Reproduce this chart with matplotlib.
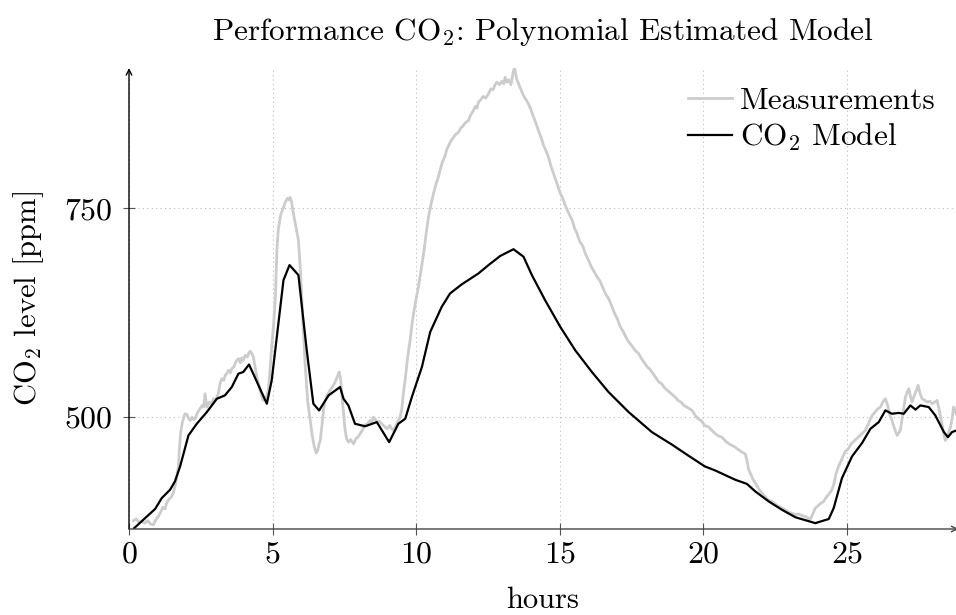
import matplotlib
matplotlib.use("Agg")
import matplotlib.pyplot as plt

plt.rcParams['font.family'] = ['cmr10', 'DejaVu Serif']
plt.rcParams['mathtext.fontset'] = 'cm'
plt.rcParams['axes.unicode_minus'] = False
plt.rcParams['axes.formatter.use_mathtext'] = True

# ---------------- data ----------------
meas_h = [0.15,0.25,0.35,0.44,0.55,0.65,0.75,0.85,0.95,1.02,1.10,1.18,1.25,1.31,1.40,1.47,1.54,1.62,1.68,1.72,
          1.76,1.80,1.86,1.95,2.02,2.08,2.13,2.20,2.25,2.30,2.38,2.47,2.55,2.60,2.65,2.71,2.80,2.88,2.95,3.00,
          3.06,3.11,3.17,3.23,3.30,3.35,3.40,3.47,3.53,3.58,3.65,3.72,3.81,3.88,3.93,3.98,4.05,4.12,4.18,4.22,
          4.28,4.33,4.40,4.45,4.51,4.58,4.63,4.68,4.75,4.80,4.85,4.92,4.97,5.03,5.10,5.15,5.20,5.28,5.38,5.45,
          5.52,5.58,5.61,5.66,5.72,5.80,5.90,5.98,6.06,6.14,6.22,6.31,6.38,6.45,6.52,6.57,6.62,6.66,6.72,6.78,
          6.83,6.90,7.00,7.08,7.18,7.25,7.32,7.37,7.41,7.47,7.52,7.58,7.65,7.72,7.82,7.90,7.97,8.05,8.12,8.20,
          8.30,8.40,8.45,8.51,8.58,8.65,8.72,8.80,8.86,8.93,9.00,9.08,9.15,9.21,9.30,9.38,9.44,9.50,9.56,9.62,
          9.68,9.73,9.79,9.85,9.91,10.00,10.08,10.17,10.26,10.35,10.43,10.52,10.60,10.70,10.76,10.83,10.92,11.00,11.06,11.13,
          11.20,11.28,11.36,11.47,11.55,11.62,11.70,11.82,11.90,11.98,12.06,12.12,12.17,12.25,12.33,12.42,12.52,12.60,12.68,12.75,
          12.81,12.90,12.98,13.05,13.10,13.16,13.22,13.30,13.39,13.43,13.50,13.57,13.65,13.75,13.83,13.91,14.00,14.08,14.17,14.26,
          14.35,14.43,14.52,14.61,14.70,14.80,14.90,15.02,15.10,15.20,15.30,15.43,15.52,15.60,15.70,15.80,15.90,16.00,16.10,16.20,
          16.30,16.40,16.50,16.59,16.70,16.80,16.90,17.00,17.11,17.20,17.30,17.40,17.50,17.62,17.75,17.85,17.95,18.05,18.15,18.25,
          18.33,18.45,18.55,18.65,18.75,18.85,18.95,19.02,19.12,19.22,19.32,19.42,19.52,19.61,19.72,19.82,19.92,20.05,20.19,20.30,
          20.42,20.55,20.65,20.78,20.90,21.00,21.11,21.22,21.35,21.46,21.52,21.58,21.65,21.72,21.81,21.90,21.97,22.04,22.15,22.25,
          22.39,22.50,22.62,22.74,22.85,22.97,23.09,23.20,23.32,23.44,23.55,23.65,23.73,23.80,23.90,24.00,24.10,24.19,24.28,24.38,
          24.48,24.55,24.62,24.71,24.80,24.88,24.95,25.05,25.15,25.30,25.40,25.52,25.64,25.75,25.82,25.88,25.98,26.08,26.17,26.25,
          26.34,26.42,26.50,26.57,26.66,26.75,26.86,26.95,27.04,27.10,27.16,27.22,27.27,27.35,27.42,27.48,27.55,27.62,27.72,27.80,
          27.90,27.97,28.06,28.14,28.22,28.31,28.37,28.43,28.50,28.55,28.61,28.67,28.72,28.78,28.81]
meas_v = [376,378,374,375,373,376,372,371,378,381,386,392,390,397,402,404,409,420,432,441,
          465,482,494,504,503,498,496,500,497,498,505,510,514,512,528,512,518,516,522,520,
          524,528,540,546,544,550,552,556,553,558,560,566,570,565,571,568,574,572,577,579,
          576,572,558,548,540,530,524,520,522,526,532,560,585,608,645,700,725,742,751,758,
          762,760,763,758,745,730,712,670,610,560,520,496,478,465,457,460,468,472,490,510,
          520,526,532,536,542,548,554,545,528,505,486,474,470,473,468,474,476,480,484,490,
          492,496,494,500,497,494,495,492,490,488,486,490,486,484,490,496,500,510,530,545,
          565,578,592,610,624,642,656,676,696,720,740,755,767,780,786,795,806,812,820,825,
          830,834,838,841,846,848,852,855,862,866,872,870,877,880,884,882,887,893,892,898,
          901,898,902,899,907,901,904,898,915,918,905,899,892,884,880,875,868,860,852,843,
          835,826,819,811,800,790,780,768,762,753,745,736,726,720,710,705,695,688,680,674,
          668,663,655,648,642,634,625,618,608,603,596,590,586,580,576,570,565,560,557,552,
          548,542,540,535,532,529,526,524,520,518,514,512,510,508,502,498,496,490,488,484,
          480,477,476,471,468,466,464,461,458,456,448,437,432,426,421,416,412,409,405,401,
          399,396,393,391,389,386,385,383,384,382,381,379,378,383,391,394,397,399,404,408,
          413,420,432,441,448,454,459,462,468,473,476,480,484,492,498,502,506,510,512,518,
          522,514,502,496,486,478,484,504,524,530,534,524,518,526,532,538,528,522,520,518,
          519,516,518,520,508,492,480,472,476,482,488,500,512,508,504]

model_h = [0.18,0.56,0.91,1.14,1.43,1.60,1.78,2.07,2.36,2.71,3.06,3.34,3.58,3.81,3.98,4.18,4.80,4.97,5.38,5.59,
           5.90,6.19,6.42,6.62,6.95,7.35,7.47,7.64,7.87,8.22,8.63,9.06,9.38,9.62,9.85,10.20,10.49,10.89,11.18,11.59,
           12.17,12.52,12.93,13.39,13.74,14.03,14.49,15.02,15.54,16.12,16.70,17.40,18.21,18.91,19.43,20.05,20.42,21.11,21.52,21.81,
           22.28,22.74,23.21,23.61,23.90,24.37,24.54,24.83,25.18,25.53,25.82,26.11,26.34,26.57,26.81,26.98,27.21,27.39,27.56,27.85,
           28.08,28.38,28.52,28.66,28.81]
model_v = [367,379,390,403,413,423,441,478,492,506,522,526,536,552,554,563,516,544,664,682,
           670,580,516,508,526,536,522,514,492,489,494,470,492,498,524,560,602,632,648,659,
           672,682,693,701,692,670,640,608,580,554,530,506,482,467,455,441,436,425,420,411,
           399,389,380,376,373,378,391,427,453,469,486,494,508,504,505,504,514,509,514,512,
           502,482,476,482,484]

x_ticks = [0, 5, 10, 15, 20, 25]
y_ticks = [500, 750]

# ---------------- figure ----------------
fig = plt.figure(figsize=(9.56, 6.15), dpi=100)
ax = fig.add_axes([129/956, (615-529)/615, (956-129)/956, (529-68)/615])

ax.plot(meas_h, meas_v, color='#cccccc', lw=2.0, label='Measurements', zorder=2)
ax.plot(model_h, model_v, color='black', lw=1.6, label='CO$_2$ Model', zorder=3)

ax.set_xlim(0, 28.8)
ax.set_ylim(366, 918)
ax.set_xticks(x_ticks)
ax.set_yticks(y_ticks)
ax.grid(True, color='#bbbbbb', linestyle=(0, (1, 3)), linewidth=0.8)

for s in ['top', 'right', 'left', 'bottom']:
    ax.spines[s].set_visible(False)

ax.annotate('', xy=(0, 1.0), xytext=(0, 0), xycoords='axes fraction',
            arrowprops=dict(arrowstyle='->', color='black', lw=1.0, shrinkA=0, shrinkB=0))
ax.annotate('', xy=(1.003, 0), xytext=(0, 0), xycoords='axes fraction',
            arrowprops=dict(arrowstyle='->', color='#444444', lw=1.0, shrinkA=0, shrinkB=0),
            annotation_clip=False)

ax.tick_params(axis='both', direction='inout', length=8, width=0.8, color='#555555',
               labelsize=23)
ax.tick_params(axis='y', pad=8)
ax.tick_params(axis='x', pad=5)

ax.set_xlabel('hours', fontsize=22, labelpad=13)
ax.set_ylabel('CO$_2$ level [ppm]', fontsize=22, labelpad=13)
ax.set_title('Performance CO$_2$: Polynomial Estimated Model', fontsize=22.5, pad=20)

leg = ax.legend(loc='upper right', bbox_to_anchor=(0.998, 1.0), frameon=False, fontsize=22.5,
                handlelength=1.4, handletextpad=0.25, labelspacing=0.22, borderaxespad=0.2)

fig.savefig('out.png', dpi=100)
